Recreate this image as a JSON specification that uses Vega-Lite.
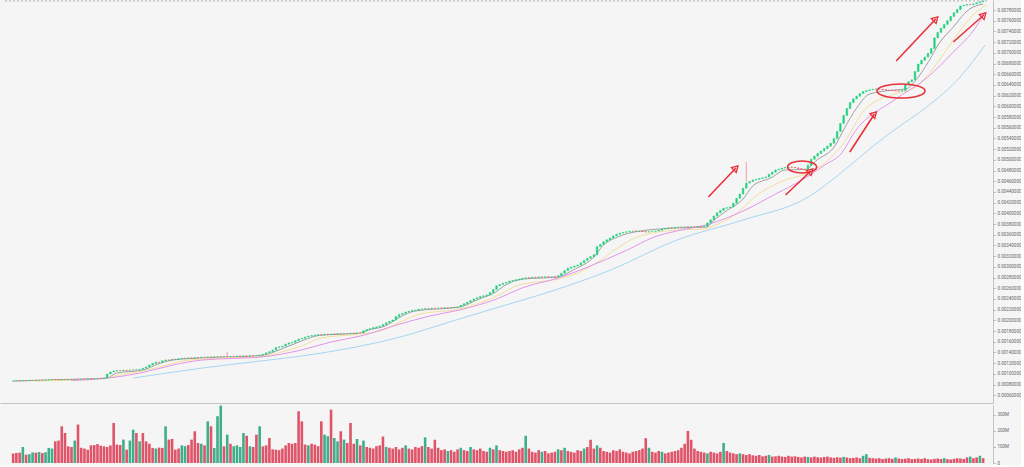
{
"$schema": "https://vega.github.io/schema/vega-lite/v6.json",
"background": "#f5f5f5",
"padding": 0,
"spacing": 2,
"config": {"view": {"stroke": null}, "font": "Roboto"},
"resolve": {"scale": {"x": "shared", "y": "independent"}},
"datasets": {
"k": [
{"i":0,"p":0.000864,"c":0.000866,"v":60,"u":0},
{"i":1,"p":0.000866,"c":0.000869,"v":62,"u":0},
{"i":2,"p":0.000869,"c":0.000867,"v":65,"u":0},
{"i":3,"p":0.000867,"c":0.000873,"v":100,"u":1},
{"i":4,"p":0.000873,"c":0.000871,"v":52,"u":0},
{"i":5,"p":0.000871,"c":0.000876,"v":55,"u":1},
{"i":6,"p":0.000876,"c":0.000879,"v":66,"u":1},
{"i":7,"p":0.000879,"c":0.000877,"v":64,"u":0},
{"i":8,"p":0.000877,"c":0.000882,"v":68,"u":1},
{"i":9,"p":0.000882,"c":0.000880,"v":62,"u":0},
{"i":10,"p":0.000880,"c":0.000885,"v":67,"u":1},
{"i":11,"p":0.000885,"c":0.000890,"v":94,"u":1},
{"i":12,"p":0.000890,"c":0.000894,"v":90,"u":1},
{"i":13,"p":0.000894,"c":0.000891,"v":135,"u":0},
{"i":14,"p":0.000891,"c":0.000889,"v":140,"u":0},
{"i":15,"p":0.000889,"c":0.000893,"v":229,"u":0},
{"i":16,"p":0.000893,"c":0.000890,"v":187,"u":0},
{"i":17,"p":0.000890,"c":0.000896,"v":104,"u":0},
{"i":18,"p":0.000896,"c":0.000894,"v":100,"u":0},
{"i":19,"p":0.000894,"c":0.000900,"v":140,"u":1},
{"i":20,"p":0.000900,"c":0.000897,"v":240,"u":0},
{"i":21,"p":0.000897,"c":0.000902,"v":95,"u":0},
{"i":22,"p":0.000902,"c":0.000900,"v":90,"u":0},
{"i":23,"p":0.000900,"c":0.000905,"v":83,"u":0},
{"i":24,"p":0.000905,"c":0.000903,"v":110,"u":0},
{"i":25,"p":0.000903,"c":0.000909,"v":112,"u":0},
{"i":26,"p":0.000909,"c":0.000912,"v":118,"u":0},
{"i":27,"p":0.000912,"c":0.000910,"v":108,"u":0},
{"i":28,"p":0.000910,"c":0.000922,"v":104,"u":0},
{"i":29,"p":0.000922,"c":0.000997,"v":100,"u":0},
{"i":30,"p":0.000997,"c":0.001035,"v":110,"u":0},
{"i":31,"p":0.001035,"c":0.001053,"v":250,"u":0},
{"i":32,"p":0.001053,"c":0.001062,"v":115,"u":0},
{"i":33,"p":0.001062,"c":0.001058,"v":112,"u":0},
{"i":34,"p":0.001058,"c":0.001068,"v":146,"u":1},
{"i":35,"p":0.001068,"c":0.001065,"v":83,"u":0},
{"i":36,"p":0.001065,"c":0.001073,"v":140,"u":1},
{"i":37,"p":0.001073,"c":0.001070,"v":208,"u":1},
{"i":38,"p":0.001070,"c":0.001078,"v":187,"u":0},
{"i":39,"p":0.001078,"c":0.001082,"v":135,"u":1},
{"i":40,"p":0.001082,"c":0.001105,"v":187,"u":0},
{"i":41,"p":0.001105,"c":0.001130,"v":135,"u":0},
{"i":42,"p":0.001130,"c":0.001165,"v":120,"u":0},
{"i":43,"p":0.001165,"c":0.001195,"v":94,"u":0},
{"i":44,"p":0.001195,"c":0.001218,"v":90,"u":1},
{"i":45,"p":0.001218,"c":0.001212,"v":96,"u":0},
{"i":46,"p":0.001212,"c":0.001245,"v":94,"u":0},
{"i":47,"p":0.001245,"c":0.001260,"v":229,"u":1},
{"i":48,"p":0.001260,"c":0.001256,"v":146,"u":0},
{"i":49,"p":0.001256,"c":0.001272,"v":150,"u":0},
{"i":50,"p":0.001272,"c":0.001269,"v":83,"u":0},
{"i":51,"p":0.001269,"c":0.001283,"v":90,"u":0},
{"i":52,"p":0.001283,"c":0.001292,"v":110,"u":1},
{"i":53,"p":0.001292,"c":0.001290,"v":105,"u":1},
{"i":54,"p":0.001290,"c":0.001298,"v":112,"u":0},
{"i":55,"p":0.001298,"c":0.001295,"v":146,"u":0},
{"i":56,"p":0.001295,"c":0.001304,"v":198,"u":0},
{"i":57,"p":0.001304,"c":0.001302,"v":125,"u":0},
{"i":58,"p":0.001302,"c":0.001312,"v":120,"u":1},
{"i":59,"p":0.001312,"c":0.001310,"v":110,"u":0},
{"i":60,"p":0.001310,"c":0.001317,"v":260,"u":1},
{"i":61,"p":0.001317,"c":0.001314,"v":229,"u":0},
{"i":62,"p":0.001314,"c":0.001320,"v":94,"u":1},
{"i":63,"p":0.001320,"c":0.001323,"v":292,"u":1},
{"i":64,"p":0.001323,"c":0.001320,"v":358,"u":1},
{"i":65,"p":0.001320,"c":0.001325,"v":104,"u":0},
{"i":66,"p":0.001325,"c":0.001323,"v":177,"u":1},
{"i":67,"p":0.001323,"c":0.001328,"v":120,"u":0},
{"i":68,"p":0.001328,"c":0.001326,"v":104,"u":1},
{"i":69,"p":0.001326,"c":0.001332,"v":110,"u":1},
{"i":70,"p":0.001332,"c":0.001330,"v":100,"u":1},
{"i":71,"p":0.001330,"c":0.001335,"v":187,"u":1},
{"i":72,"p":0.001335,"c":0.001333,"v":170,"u":0},
{"i":73,"p":0.001333,"c":0.001339,"v":104,"u":1},
{"i":74,"p":0.001339,"c":0.001337,"v":100,"u":0},
{"i":75,"p":0.001337,"c":0.001343,"v":177,"u":0},
{"i":76,"p":0.001343,"c":0.001352,"v":229,"u":1},
{"i":77,"p":0.001352,"c":0.001365,"v":104,"u":0},
{"i":78,"p":0.001365,"c":0.001395,"v":110,"u":0},
{"i":79,"p":0.001395,"c":0.001415,"v":156,"u":0},
{"i":80,"p":0.001415,"c":0.001445,"v":85,"u":0},
{"i":81,"p":0.001445,"c":0.001490,"v":83,"u":0},
{"i":82,"p":0.001490,"c":0.001505,"v":80,"u":0},
{"i":83,"p":0.001505,"c":0.001520,"v":90,"u":0},
{"i":84,"p":0.001520,"c":0.001555,"v":110,"u":0},
{"i":85,"p":0.001555,"c":0.001578,"v":125,"u":0},
{"i":86,"p":0.001578,"c":0.001590,"v":120,"u":0},
{"i":87,"p":0.001590,"c":0.001620,"v":125,"u":0},
{"i":88,"p":0.001620,"c":0.001651,"v":323,"u":0},
{"i":89,"p":0.001651,"c":0.001665,"v":260,"u":0},
{"i":90,"p":0.001665,"c":0.001688,"v":115,"u":0},
{"i":91,"p":0.001688,"c":0.001705,"v":110,"u":1},
{"i":92,"p":0.001705,"c":0.001715,"v":120,"u":0},
{"i":93,"p":0.001715,"c":0.001726,"v":115,"u":0},
{"i":94,"p":0.001726,"c":0.001733,"v":105,"u":0},
{"i":95,"p":0.001733,"c":0.001730,"v":260,"u":0},
{"i":96,"p":0.001730,"c":0.001740,"v":177,"u":1},
{"i":97,"p":0.001740,"c":0.001737,"v":167,"u":1},
{"i":98,"p":0.001737,"c":0.001745,"v":333,"u":0},
{"i":99,"p":0.001745,"c":0.001742,"v":156,"u":1},
{"i":100,"p":0.001742,"c":0.001750,"v":135,"u":1},
{"i":101,"p":0.001750,"c":0.001747,"v":198,"u":0},
{"i":102,"p":0.001747,"c":0.001754,"v":146,"u":1},
{"i":103,"p":0.001754,"c":0.001751,"v":125,"u":0},
{"i":104,"p":0.001751,"c":0.001759,"v":250,"u":0},
{"i":105,"p":0.001759,"c":0.001756,"v":120,"u":0},
{"i":106,"p":0.001756,"c":0.001764,"v":150,"u":1},
{"i":107,"p":0.001764,"c":0.001763,"v":110,"u":0},
{"i":108,"p":0.001763,"c":0.001805,"v":140,"u":1},
{"i":109,"p":0.001805,"c":0.001830,"v":100,"u":0},
{"i":110,"p":0.001830,"c":0.001845,"v":95,"u":0},
{"i":111,"p":0.001845,"c":0.001865,"v":90,"u":0},
{"i":112,"p":0.001865,"c":0.001880,"v":105,"u":0},
{"i":113,"p":0.001880,"c":0.001894,"v":110,"u":0},
{"i":114,"p":0.001894,"c":0.001920,"v":165,"u":0},
{"i":115,"p":0.001920,"c":0.001955,"v":100,"u":1},
{"i":116,"p":0.001955,"c":0.001980,"v":95,"u":0},
{"i":117,"p":0.001980,"c":0.002006,"v":90,"u":0},
{"i":118,"p":0.002006,"c":0.002070,"v":100,"u":0},
{"i":119,"p":0.002070,"c":0.002110,"v":85,"u":0},
{"i":120,"p":0.002110,"c":0.002130,"v":95,"u":0},
{"i":121,"p":0.002130,"c":0.002156,"v":110,"u":1},
{"i":122,"p":0.002156,"c":0.002168,"v":90,"u":0},
{"i":123,"p":0.002168,"c":0.002185,"v":85,"u":0},
{"i":124,"p":0.002185,"c":0.002192,"v":100,"u":0},
{"i":125,"p":0.002192,"c":0.002208,"v":95,"u":0},
{"i":126,"p":0.002208,"c":0.002213,"v":105,"u":0},
{"i":127,"p":0.002213,"c":0.002223,"v":160,"u":1},
{"i":128,"p":0.002223,"c":0.002220,"v":100,"u":0},
{"i":129,"p":0.002220,"c":0.002228,"v":90,"u":0},
{"i":130,"p":0.002228,"c":0.002225,"v":145,"u":0},
{"i":131,"p":0.002225,"c":0.002232,"v":95,"u":0},
{"i":132,"p":0.002232,"c":0.002230,"v":80,"u":0},
{"i":133,"p":0.002230,"c":0.002237,"v":85,"u":0},
{"i":134,"p":0.002237,"c":0.002235,"v":75,"u":1},
{"i":135,"p":0.002235,"c":0.002242,"v":80,"u":0},
{"i":136,"p":0.002242,"c":0.002240,"v":70,"u":0},
{"i":137,"p":0.002240,"c":0.002250,"v":85,"u":0},
{"i":138,"p":0.002250,"c":0.002280,"v":95,"u":1},
{"i":139,"p":0.002280,"c":0.002310,"v":80,"u":0},
{"i":140,"p":0.002310,"c":0.002340,"v":75,"u":0},
{"i":141,"p":0.002340,"c":0.002370,"v":100,"u":1},
{"i":142,"p":0.002370,"c":0.002400,"v":85,"u":0},
{"i":143,"p":0.002400,"c":0.002420,"v":80,"u":0},
{"i":144,"p":0.002420,"c":0.002445,"v":90,"u":0},
{"i":145,"p":0.002445,"c":0.002460,"v":75,"u":0},
{"i":146,"p":0.002460,"c":0.002475,"v":70,"u":0},
{"i":147,"p":0.002475,"c":0.002520,"v":95,"u":1},
{"i":148,"p":0.002520,"c":0.002580,"v":85,"u":0},
{"i":149,"p":0.002580,"c":0.002645,"v":110,"u":1},
{"i":150,"p":0.002645,"c":0.002670,"v":80,"u":0},
{"i":151,"p":0.002670,"c":0.002695,"v":75,"u":0},
{"i":152,"p":0.002695,"c":0.002710,"v":70,"u":0},
{"i":153,"p":0.002710,"c":0.002735,"v":75,"u":0},
{"i":154,"p":0.002735,"c":0.002745,"v":80,"u":0},
{"i":155,"p":0.002745,"c":0.002760,"v":70,"u":0},
{"i":156,"p":0.002760,"c":0.002772,"v":85,"u":0},
{"i":157,"p":0.002772,"c":0.002785,"v":95,"u":0},
{"i":158,"p":0.002785,"c":0.002795,"v":170,"u":1},
{"i":159,"p":0.002795,"c":0.002790,"v":90,"u":0},
{"i":160,"p":0.002790,"c":0.002805,"v":70,"u":0},
{"i":161,"p":0.002805,"c":0.002800,"v":65,"u":0},
{"i":162,"p":0.002800,"c":0.002812,"v":80,"u":0},
{"i":163,"p":0.002812,"c":0.002806,"v":70,"u":1},
{"i":164,"p":0.002806,"c":0.002815,"v":75,"u":0},
{"i":165,"p":0.002815,"c":0.002808,"v":60,"u":0},
{"i":166,"p":0.002808,"c":0.002813,"v":65,"u":0},
{"i":167,"p":0.002813,"c":0.002810,"v":70,"u":0},
{"i":168,"p":0.002810,"c":0.002835,"v":85,"u":1},
{"i":169,"p":0.002835,"c":0.002880,"v":80,"u":0},
{"i":170,"p":0.002880,"c":0.002930,"v":95,"u":1},
{"i":171,"p":0.002930,"c":0.002975,"v":75,"u":0},
{"i":172,"p":0.002975,"c":0.002995,"v":70,"u":0},
{"i":173,"p":0.002995,"c":0.003015,"v":65,"u":0},
{"i":174,"p":0.003015,"c":0.003034,"v":80,"u":0},
{"i":175,"p":0.003034,"c":0.003075,"v":75,"u":0},
{"i":176,"p":0.003075,"c":0.003120,"v":90,"u":1},
{"i":177,"p":0.003120,"c":0.003160,"v":100,"u":0},
{"i":178,"p":0.003160,"c":0.003190,"v":145,"u":0},
{"i":179,"p":0.003190,"c":0.003225,"v":90,"u":0},
{"i":180,"p":0.003225,"c":0.003380,"v":110,"u":1},
{"i":181,"p":0.003380,"c":0.003420,"v":95,"u":0},
{"i":182,"p":0.003420,"c":0.003470,"v":75,"u":0},
{"i":183,"p":0.003470,"c":0.003505,"v":70,"u":0},
{"i":184,"p":0.003505,"c":0.003540,"v":65,"u":0},
{"i":185,"p":0.003540,"c":0.003580,"v":80,"u":0},
{"i":186,"p":0.003580,"c":0.003610,"v":75,"u":0},
{"i":187,"p":0.003610,"c":0.003630,"v":85,"u":0},
{"i":188,"p":0.003630,"c":0.003645,"v":70,"u":0},
{"i":189,"p":0.003645,"c":0.003655,"v":65,"u":0},
{"i":190,"p":0.003655,"c":0.003665,"v":60,"u":0},
{"i":191,"p":0.003665,"c":0.003670,"v":70,"u":0},
{"i":192,"p":0.003670,"c":0.003662,"v":75,"u":0},
{"i":193,"p":0.003662,"c":0.003668,"v":80,"u":0},
{"i":194,"p":0.003668,"c":0.003658,"v":90,"u":0},
{"i":195,"p":0.003658,"c":0.003650,"v":155,"u":0},
{"i":196,"p":0.003650,"c":0.003656,"v":95,"u":1},
{"i":197,"p":0.003656,"c":0.003663,"v":70,"u":0},
{"i":198,"p":0.003663,"c":0.003670,"v":65,"u":0},
{"i":199,"p":0.003670,"c":0.003685,"v":75,"u":0},
{"i":200,"p":0.003685,"c":0.003705,"v":70,"u":1},
{"i":201,"p":0.003705,"c":0.003720,"v":60,"u":0},
{"i":202,"p":0.003720,"c":0.003730,"v":65,"u":0},
{"i":203,"p":0.003730,"c":0.003726,"v":70,"u":0},
{"i":204,"p":0.003726,"c":0.003738,"v":75,"u":0},
{"i":205,"p":0.003738,"c":0.003744,"v":80,"u":0},
{"i":206,"p":0.003744,"c":0.003740,"v":95,"u":0},
{"i":207,"p":0.003740,"c":0.003748,"v":120,"u":0},
{"i":208,"p":0.003748,"c":0.003743,"v":200,"u":0},
{"i":209,"p":0.003743,"c":0.003750,"v":145,"u":0},
{"i":210,"p":0.003750,"c":0.003745,"v":90,"u":0},
{"i":211,"p":0.003745,"c":0.003752,"v":75,"u":0},
{"i":212,"p":0.003752,"c":0.003748,"v":70,"u":0},
{"i":213,"p":0.003748,"c":0.003755,"v":65,"u":0},
{"i":214,"p":0.003755,"c":0.003820,"v":60,"u":1},
{"i":215,"p":0.003820,"c":0.003880,"v":70,"u":0},
{"i":216,"p":0.003880,"c":0.003950,"v":65,"u":0},
{"i":217,"p":0.003950,"c":0.004010,"v":60,"u":0},
{"i":218,"p":0.004010,"c":0.004055,"v":70,"u":0},
{"i":219,"p":0.004055,"c":0.004095,"v":125,"u":1},
{"i":220,"p":0.004095,"c":0.004105,"v":75,"u":0},
{"i":221,"p":0.004105,"c":0.004120,"v":65,"u":0},
{"i":222,"p":0.004120,"c":0.004190,"v":60,"u":0},
{"i":223,"p":0.004190,"c":0.004280,"v":55,"u":0},
{"i":224,"p":0.004280,"c":0.004360,"v":60,"u":1},
{"i":225,"p":0.004360,"c":0.004470,"v":55,"u":0},
{"i":226,"p":0.004470,"c":0.004565,"v":50,"u":0},
{"i":227,"p":0.004565,"c":0.004595,"v":55,"u":0},
{"i":228,"p":0.004595,"c":0.004623,"v":48,"u":0},
{"i":229,"p":0.004623,"c":0.004635,"v":45,"u":0},
{"i":230,"p":0.004635,"c":0.004650,"v":50,"u":0},
{"i":231,"p":0.004650,"c":0.004665,"v":42,"u":0},
{"i":232,"p":0.004665,"c":0.004680,"v":45,"u":0},
{"i":233,"p":0.004680,"c":0.004730,"v":50,"u":1},
{"i":234,"p":0.004730,"c":0.004770,"v":40,"u":0},
{"i":235,"p":0.004770,"c":0.004810,"v":42,"u":0},
{"i":236,"p":0.004810,"c":0.004825,"v":45,"u":0},
{"i":237,"p":0.004825,"c":0.004845,"v":40,"u":0},
{"i":238,"p":0.004845,"c":0.004855,"v":38,"u":0},
{"i":239,"p":0.004855,"c":0.004866,"v":45,"u":0},
{"i":240,"p":0.004866,"c":0.004860,"v":40,"u":0},
{"i":241,"p":0.004860,"c":0.004850,"v":42,"u":0},
{"i":242,"p":0.004850,"c":0.004835,"v":38,"u":0},
{"i":243,"p":0.004835,"c":0.004828,"v":35,"u":0},
{"i":244,"p":0.004828,"c":0.004815,"v":40,"u":0},
{"i":245,"p":0.004815,"c":0.004900,"v":38,"u":1},
{"i":246,"p":0.004900,"c":0.005010,"v":35,"u":0},
{"i":247,"p":0.005010,"c":0.005070,"v":40,"u":0},
{"i":248,"p":0.005070,"c":0.005120,"v":36,"u":0},
{"i":249,"p":0.005120,"c":0.005165,"v":34,"u":0},
{"i":250,"p":0.005165,"c":0.005210,"v":38,"u":0},
{"i":251,"p":0.005210,"c":0.005255,"v":40,"u":0},
{"i":252,"p":0.005255,"c":0.005310,"v":35,"u":0},
{"i":253,"p":0.005310,"c":0.005400,"v":32,"u":0},
{"i":254,"p":0.005400,"c":0.005530,"v":36,"u":0},
{"i":255,"p":0.005530,"c":0.005680,"v":33,"u":0},
{"i":256,"p":0.005680,"c":0.005830,"v":38,"u":1},
{"i":257,"p":0.005830,"c":0.005960,"v":34,"u":0},
{"i":258,"p":0.005960,"c":0.006070,"v":30,"u":0},
{"i":259,"p":0.006070,"c":0.006140,"v":32,"u":0},
{"i":260,"p":0.006140,"c":0.006190,"v":35,"u":0},
{"i":261,"p":0.006190,"c":0.006240,"v":30,"u":0},
{"i":262,"p":0.006240,"c":0.006275,"v":45,"u":1},
{"i":263,"p":0.006275,"c":0.006295,"v":55,"u":1},
{"i":264,"p":0.006295,"c":0.006310,"v":32,"u":0},
{"i":265,"p":0.006310,"c":0.006320,"v":30,"u":0},
{"i":266,"p":0.006320,"c":0.006325,"v":28,"u":0},
{"i":267,"p":0.006325,"c":0.006320,"v":30,"u":0},
{"i":268,"p":0.006320,"c":0.006312,"v":25,"u":0},
{"i":269,"p":0.006312,"c":0.006305,"v":28,"u":0},
{"i":270,"p":0.006305,"c":0.006298,"v":30,"u":0},
{"i":271,"p":0.006298,"c":0.006292,"v":26,"u":0},
{"i":272,"p":0.006292,"c":0.006288,"v":35,"u":1},
{"i":273,"p":0.006288,"c":0.006284,"v":28,"u":0},
{"i":274,"p":0.006284,"c":0.006295,"v":25,"u":0},
{"i":275,"p":0.006295,"c":0.006400,"v":27,"u":0},
{"i":276,"p":0.006400,"c":0.006460,"v":30,"u":0},
{"i":277,"p":0.006460,"c":0.006495,"v":24,"u":0},
{"i":278,"p":0.006495,"c":0.006650,"v":26,"u":0},
{"i":279,"p":0.006650,"c":0.006790,"v":28,"u":0},
{"i":280,"p":0.006790,"c":0.006860,"v":25,"u":0},
{"i":281,"p":0.006860,"c":0.006920,"v":30,"u":0},
{"i":282,"p":0.006920,"c":0.006990,"v":24,"u":0},
{"i":283,"p":0.006990,"c":0.007080,"v":22,"u":0},
{"i":284,"p":0.007080,"c":0.007280,"v":26,"u":0},
{"i":285,"p":0.007280,"c":0.007380,"v":28,"u":0},
{"i":286,"p":0.007380,"c":0.007460,"v":25,"u":0},
{"i":287,"p":0.007460,"c":0.007530,"v":30,"u":1},
{"i":288,"p":0.007530,"c":0.007600,"v":24,"u":0},
{"i":289,"p":0.007600,"c":0.007680,"v":22,"u":0},
{"i":290,"p":0.007680,"c":0.007750,"v":26,"u":0},
{"i":291,"p":0.007750,"c":0.007810,"v":30,"u":0},
{"i":292,"p":0.007810,"c":0.007875,"v":28,"u":0},
{"i":293,"p":0.007875,"c":0.007890,"v":25,"u":0},
{"i":294,"p":0.007890,"c":0.007905,"v":35,"u":0},
{"i":295,"p":0.007905,"c":0.007900,"v":40,"u":1},
{"i":296,"p":0.007900,"c":0.007915,"v":30,"u":0},
{"i":297,"p":0.007915,"c":0.007935,"v":35,"u":0},
{"i":298,"p":0.007935,"c":0.007955,"v":45,"u":1},
{"i":299,"p":0.007955,"c":0.007970,"v":30,"u":0}
],
"ma": [
{"s":"MA7","i":0,"p":0.000866},{"s":"MA7","i":15.8,"p":0.000894},{"s":"MA7","i":28.9,"p":0.000922},{"s":"MA7","i":31.9,"p":0.001016},{"s":"MA7","i":40.1,"p":0.001072},{"s":"MA7","i":44.7,"p":0.001184},{"s":"MA7","i":49.3,"p":0.001259},{"s":"MA7","i":58.4,"p":0.001296},{"s":"MA7","i":76.7,"p":0.001343},{"s":"MA7","i":81.2,"p":0.001427},{"s":"MA7","i":88.9,"p":0.001614},{"s":"MA7","i":94.3,"p":0.001717},{"s":"MA7","i":107.1,"p":0.001763},{"s":"MA7","i":109.6,"p":0.001819},{"s":"MA7","i":114.7,"p":0.001894},{"s":"MA7","i":119.3,"p":0.002062},{"s":"MA7","i":123.9,"p":0.002174},{"s":"MA7","i":137.6,"p":0.002249},{"s":"MA7","i":143.7,"p":0.002399},{"s":"MA7","i":148.8,"p":0.00253},{"s":"MA7","i":151.3,"p":0.002642},{"s":"MA7","i":157.4,"p":0.002772},{"s":"MA7","i":168,"p":0.00281},{"s":"MA7","i":172.6,"p":0.002941},{"s":"MA7","i":179.3,"p":0.003202},{"s":"MA7","i":181.7,"p":0.003389},{"s":"MA7","i":186.3,"p":0.003557},{"s":"MA7","i":192.4,"p":0.00366},{"s":"MA7","i":204.6,"p":0.003726},{"s":"MA7","i":213.7,"p":0.003744},{"s":"MA7","i":216.1,"p":0.003875},{"s":"MA7","i":219.8,"p":0.004043},{"s":"MA7","i":225,"p":0.004268},{"s":"MA7","i":228,"p":0.004511},{"s":"MA7","i":233.5,"p":0.00466},{"s":"MA7","i":238.1,"p":0.00481},{"s":"MA7","i":244.2,"p":0.004819},{"s":"MA7","i":247.8,"p":0.004997},{"s":"MA7","i":253.3,"p":0.005258},{"s":"MA7","i":256.3,"p":0.005595},{"s":"MA7","i":260,"p":0.005968},{"s":"MA7","i":264,"p":0.00623},{"s":"MA7","i":271.6,"p":0.006305},{"s":"MA7","i":275.2,"p":0.006324},{"s":"MA7","i":278.3,"p":0.006492},{"s":"MA7","i":282.2,"p":0.006838},{"s":"MA7","i":285.3,"p":0.007165},{"s":"MA7","i":289.8,"p":0.007482},{"s":"MA7","i":294.4,"p":0.0078},{"s":"MA7","i":299,"p":0.007912},
{"s":"MA25","i":6.6,"p":0.000866},{"s":"MA25","i":28,"p":0.000913},{"s":"MA25","i":32.5,"p":0.000978},{"s":"MA25","i":40.1,"p":0.001053},{"s":"MA25","i":46.2,"p":0.001146},{"s":"MA25","i":52.3,"p":0.00124},{"s":"MA25","i":58.4,"p":0.001277},{"s":"MA25","i":76.7,"p":0.001324},{"s":"MA25","i":82.8,"p":0.001408},{"s":"MA25","i":88.9,"p":0.00152},{"s":"MA25","i":94.9,"p":0.00167},{"s":"MA25","i":107.1,"p":0.001745},{"s":"MA25","i":113.2,"p":0.001801},{"s":"MA25","i":119.3,"p":0.001969},{"s":"MA25","i":125.4,"p":0.002118},{"s":"MA25","i":137.6,"p":0.002212},{"s":"MA25","i":143.7,"p":0.002324},{"s":"MA25","i":149.8,"p":0.002473},{"s":"MA25","i":155.8,"p":0.00266},{"s":"MA25","i":168,"p":0.002772},{"s":"MA25","i":174.1,"p":0.002885},{"s":"MA25","i":180.2,"p":0.00309},{"s":"MA25","i":186.3,"p":0.003352},{"s":"MA25","i":192.4,"p":0.003557},{"s":"MA25","i":204.6,"p":0.003688},{"s":"MA25","i":212.8,"p":0.003707},{"s":"MA25","i":216.7,"p":0.003782},{"s":"MA25","i":222.8,"p":0.003987},{"s":"MA25","i":228.9,"p":0.004324},{"s":"MA25","i":238.1,"p":0.004623},{"s":"MA25","i":244.2,"p":0.004735},{"s":"MA25","i":250.2,"p":0.004941},{"s":"MA25","i":256.3,"p":0.005333},{"s":"MA25","i":262.4,"p":0.005931},{"s":"MA25","i":271.6,"p":0.00623},{"s":"MA25","i":277.7,"p":0.006342},{"s":"MA25","i":283.7,"p":0.006716},{"s":"MA25","i":289.8,"p":0.007239},{"s":"MA25","i":295.9,"p":0.007707},{"s":"MA25","i":300,"p":0.007894},
{"s":"MA99","i":17.9,"p":0.000875},{"s":"MA99","i":28,"p":0.000913},{"s":"MA99","i":39.2,"p":0.001016},{"s":"MA99","i":49.3,"p":0.001165},{"s":"MA99","i":58.4,"p":0.001259},{"s":"MA99","i":67.5,"p":0.001287},{"s":"MA99","i":76.7,"p":0.001315},{"s":"MA99","i":88.9,"p":0.001446},{"s":"MA99","i":98,"p":0.001595},{"s":"MA99","i":107.1,"p":0.001707},{"s":"MA99","i":119.3,"p":0.001931},{"s":"MA99","i":128.4,"p":0.002081},{"s":"MA99","i":137.6,"p":0.002193},{"s":"MA99","i":149.8,"p":0.002417},{"s":"MA99","i":156.8,"p":0.002604},{"s":"MA99","i":168,"p":0.002791},{"s":"MA99","i":177.2,"p":0.002997},{"s":"MA99","i":189.3,"p":0.003315},{"s":"MA99","i":197.6,"p":0.003557},{"s":"MA99","i":204.6,"p":0.00367},{"s":"MA99","i":214.6,"p":0.0038},{"s":"MA99","i":225,"p":0.004043},{"s":"MA99","i":235,"p":0.004361},{"s":"MA99","i":243.2,"p":0.004623},{"s":"MA99","i":250.2,"p":0.004903},{"s":"MA99","i":255.4,"p":0.005127},{"s":"MA99","i":259.4,"p":0.00552},{"s":"MA99","i":271.6,"p":0.006118},{"s":"MA99","i":281.6,"p":0.006529},{"s":"MA99","i":289.8,"p":0.007015},{"s":"MA99","i":296.8,"p":0.007482},{"s":"MA99","i":299.6,"p":0.007763},
{"s":"MA200","i":37.1,"p":0.000922},{"s":"MA200","i":58.4,"p":0.001109},{"s":"MA200","i":73.6,"p":0.001221},{"s":"MA200","i":88.9,"p":0.001333},{"s":"MA200","i":104.1,"p":0.001483},{"s":"MA200","i":119.3,"p":0.001688},{"s":"MA200","i":134.5,"p":0.001969},{"s":"MA200","i":149.8,"p":0.002249},{"s":"MA200","i":167.1,"p":0.002567},{"s":"MA200","i":184.2,"p":0.002941},{"s":"MA200","i":204.6,"p":0.003501},{"s":"MA200","i":225,"p":0.003875},{"s":"MA200","i":245.1,"p":0.004305},{"s":"MA200","i":256.3,"p":0.00481},{"s":"MA200","i":265.5,"p":0.005277},{"s":"MA200","i":271.6,"p":0.005557},{"s":"MA200","i":281.6,"p":0.005987},{"s":"MA200","i":291.9,"p":0.006548},{"s":"MA200","i":299.6,"p":0.007146}
],
"arr": [
{"i":214.3,"p":0.004305,"i2":222.8,"p2":0.004847},
{"i":238.1,"p":0.004342,"i2":245.9,"p2":0.004791},
{"i":257.9,"p":0.005146,"i2":265.5,"p2":0.005856},
{"i":272.2,"p":0.006847,"i2":284.4,"p2":0.007632},
{"i":289.8,"p":0.007202,"i2":299.2,"p2":0.007707}
],
"heads": [
{"i":222.8,"p":0.004847},
{"i":245.9,"p":0.004791},
{"i":265.5,"p":0.005856},
{"i":284.4,"p":0.007632},
{"i":299.2,"p":0.007707}
],
"wk": [
{"i":226,"p":0.004585,"hi":0.004959},
{"i":66,"p":0.001323,"hi":0.001409}
],
"last": [
{"i":-2.5,"i2":300.5,"p":0.00797}
]
},
"vconcat": [
{
"width": 993,
"height": 403,
"encoding": {
"x": {"field": "i", "type": "quantitative", "scale": {"domain": [-2.5, 300.5], "nice": false, "zero": false},
"axis": {"orient": "bottom", "labels": false, "ticks": false, "grid": false, "title": null, "domain": true, "domainColor": "#c4c4c4", "domainWidth": 1}},
"y": {"field": "p", "type": "quantitative", "scale": {"domain": [0.000455, 0.007987], "nice": false, "zero": false},
"axis": {"orient": "right", "title": null, "grid": false, "format": ".8f",
"values": [0.0006,0.0008,0.001,0.0012,0.0014,0.0016,0.0018,0.002,0.0022,0.0024,0.0026,0.0028,0.003,0.0032,0.0034,0.0036,0.0038,0.004,0.0042,0.0044,0.0046,0.0048,0.005,0.0052,0.0054,0.0056,0.0058,0.006,0.0062,0.0064,0.0066,0.0068,0.007,0.0072,0.0074,0.0076,0.0078],
"labelFontSize": 4.5, "labelColor": "#666666", "labelPadding": 2, "labelOverlap": false, "tickSize": 2, "tickColor": "#aaaaaa", "domainColor": "#c4c4c4"}}
},
"layer": [
{
"data": {"name": "ma"},
"mark": {"type": "line", "strokeWidth": 1, "interpolate": "monotone"},
"encoding": {
"color": {"field": "s", "type": "nominal", "legend": null,
"scale": {"domain": ["MA7", "MA25", "MA99", "MA200"], "range": ["#a0a0a0", "#f3df9a", "#e394ec", "#a6d6f2"]}},
"order": {"field": "i", "type": "quantitative"}
}
},
{
"data": {"name": "last"},
"mark": {"type": "rule", "strokeDash": [2, 2], "color": "#9a9a9a", "strokeWidth": 0.8},
"encoding": {"x2": {"field": "i2"}}
},
{
"data": {"name": "wk"},
"mark": {"type": "rule", "color": "#f08a94", "strokeWidth": 0.8},
"encoding": {"y2": {"field": "hi"}}
},
{
"data": {"name": "k"},
"mark": {"type": "bar", "width": 1.6, "strokeWidth": 0.5},
"encoding": {
"y2": {"field": "c"},
"fill": {"condition": {"test": "datum.c >= datum.p", "value": "#1fd07c"}, "value": "#ee5a62"},
"stroke": {"condition": {"test": "datum.c >= datum.p", "value": "#1fd07c"}, "value": "#ee5a62"}
}
},
{
"data": {"name": "arr"},
"mark": {"type": "rule", "color": "#e8313a", "strokeWidth": 1.6},
"encoding": {"x2": {"field": "i2"}, "y2": {"field": "p2"}}
},
{
"data": {"name": "heads"},
"mark": {"type": "point", "shape": "triangle-up", "angle": 45, "size": 45, "filled": false, "color": "#e8313a", "strokeWidth": 1.3, "opacity": 1}
},
{
"data": {"values": [{"i": 243.2, "p": 0.004866}]},
"mark": {"type": "point", "shape": "M -1 0 A 1 0.41 0 1 0 1 0 A 1 0.41 0 1 0 -1 0 Z", "size": 841, "filled": false, "color": "#e8313a", "strokeWidth": 1.6, "opacity": 1}
},
{
"data": {"values": [{"i": 273.7, "p": 0.006286}]},
"mark": {"type": "point", "shape": "M -1 0 A 1 0.29 0 1 0 1 0 A 1 0.29 0 1 0 -1 0 Z", "size": 2304, "filled": false, "color": "#e8313a", "strokeWidth": 1.6, "opacity": 1}
}
]
},
{
"width": 993,
"height": 58,
"data": {"name": "k"},
"mark": {"type": "bar", "width": 2.6},
"encoding": {
"x": {"field": "i", "type": "quantitative", "scale": {"domain": [-2.5, 300.5], "nice": false, "zero": false}, "axis": null},
"y": {"field": "v", "type": "quantitative", "scale": {"domain": [0, 362], "nice": false},
"axis": {"orient": "right", "title": null, "grid": false, "values": [0, 100, 200, 300],
"labelExpr": "datum.value == 0 ? '0' : datum.value + 'M'",
"labelFontSize": 4.5, "labelColor": "#666666", "labelPadding": 2, "tickSize": 2, "tickColor": "#aaaaaa", "domainColor": "#c4c4c4"}},
"fill": {"condition": {"test": "datum.u == 1", "value": "#3fae8b"}, "value": "#df5468"}
}
}
]
}
